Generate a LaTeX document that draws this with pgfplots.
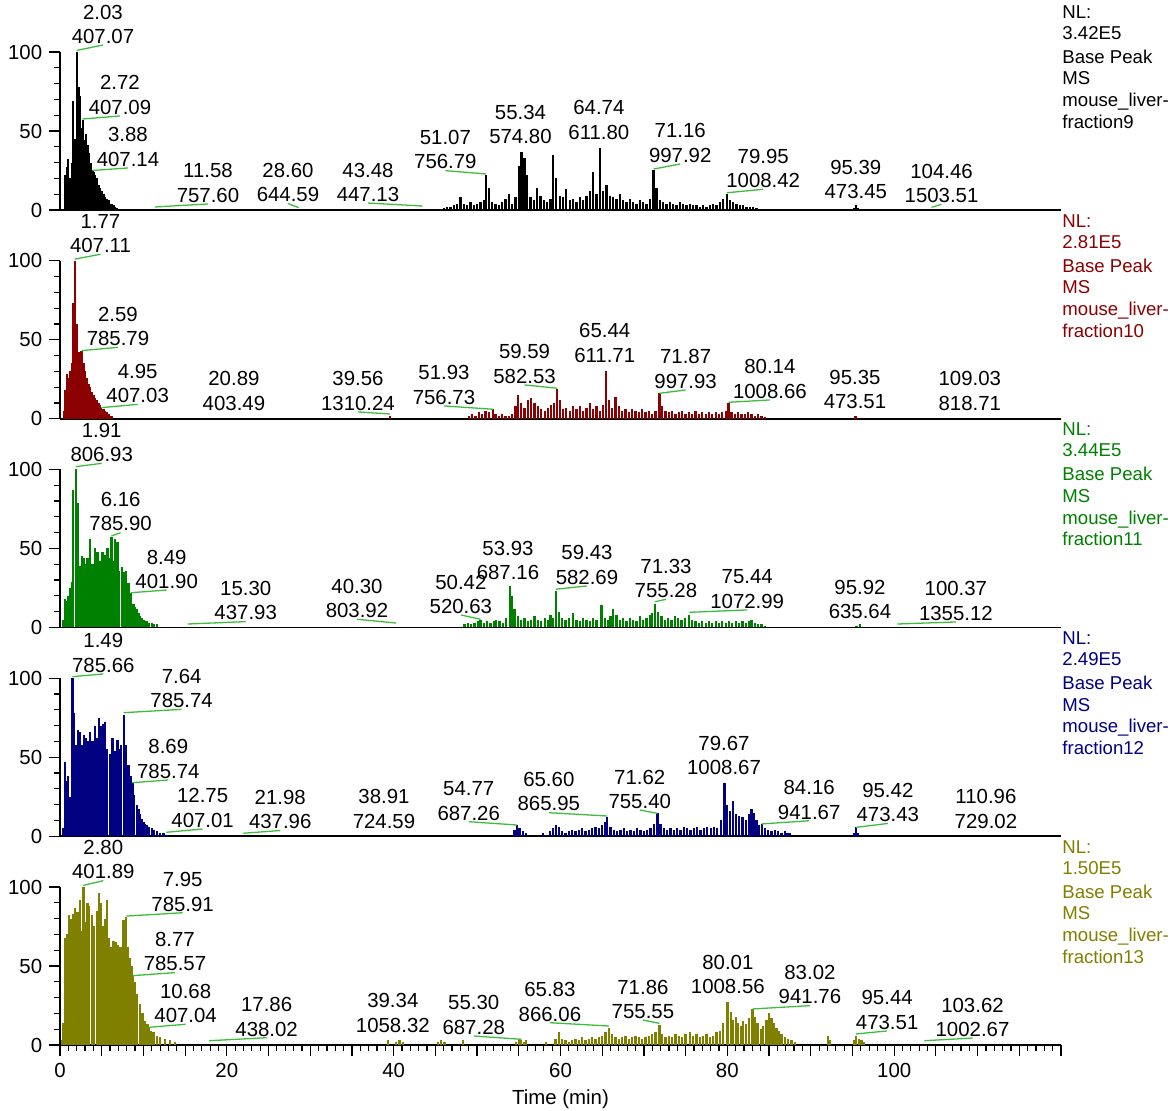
\documentclass[border=0pt]{standalone}
\usepackage{fontspec}
\setmainfont{Liberation Sans}
\usepackage{pgfplots}
\pgfplotsset{compat=1.18}
\definecolor{cA}{RGB}{0,0,0}
\definecolor{cB}{RGB}{139,0,0}
\definecolor{cC}{RGB}{0,128,0}
\definecolor{cD}{RGB}{0,0,128}
\definecolor{cE}{RGB}{128,128,0}
\definecolor{lead}{RGB}{60,190,60}
\newcommand\lfont{\fontsize{10.2}{12}\selectfont}
\newcommand\nfont{\fontsize{9.3}{10.75}\selectfont}
\newcommand\lab[6]{%
  \draw[lead,line width=0.65pt] (axis cs:#1,#2) -- (axis cs:#3,#4);
  \node[anchor=base,inner sep=0pt,yshift=0.85pt,font=\lfont] at (axis cs:#3,#4) {#6};
  \node[anchor=base,inner sep=0pt,yshift=13pt,font=\lfont] at (axis cs:#3,#4) {#5};}
\newcommand\labn[4]{%
  \node[anchor=base,inner sep=0pt,yshift=0.85pt,font=\lfont] at (axis cs:#1,#2) {#4};
  \node[anchor=base,inner sep=0pt,yshift=13pt,font=\lfont] at (axis cs:#1,#2) {#3};}
\newcommand\nl[4]{%
  \node[anchor=base west,inner sep=0pt,font=\nfont,text=#1] at (531pt,{(1092.7-#2)*0.5pt}) {NL:};
  \node[anchor=base west,inner sep=0pt,font=\nfont,text=#1] at (531pt,{(1071.7-#2)*0.5pt}) {#3};
  \node[anchor=base west,inner sep=0pt,font=\nfont,text=#1] at (531pt,{(1047.7-#2)*0.5pt}) {Base Peak};
  \node[anchor=base west,inner sep=0pt,font=\nfont,text=#1] at (531pt,{(1026-#2)*0.5pt}) {MS};
  \node[anchor=base west,inner sep=0pt,font=\nfont,text=#1] at (531pt,{(1004.3-#2)*0.5pt}) {mouse\_liver-};
  \node[anchor=base west,inner sep=0pt,font=\nfont,text=#1] at (531pt,{(982.7-#2)*0.5pt}) {#4};}
\pgfplotsset{panel/.style={
  scale only axis, width=500.5pt, height=79pt,
  xmin=0,xmax=120,ymin=0,ymax=100,
  axis x line*=bottom, axis y line*=left,
  axis line style={line width=0.9pt,black},
  clip=false, anchor=south west,
  ytick={0,50,100}, minor ytick={10,20,30,40,60,70,80,90},
  xtick=\empty,
  tick align=outside, major tick length=5.4pt, minor tick length=3pt,
  tick style={line width=0.6pt,black},
  tick label style={font=\lfont},
  /pgf/number format/assume math mode=true,
}}
\begin{document}
\begin{tikzpicture}
\useasboundingbox (0,0) rectangle (586pt,555.5pt);
% ---------------- panel 1
\begin{axis}[panel, at={(30pt,450.5pt)}]
\addplot[ycomb,cA,line width=1.15pt,mark=none] coordinates {(0.6,22)(0.8,27)(1.0,32)(1.2,20)(1.4,30)(1.6,69)(1.8,45)(2.03,100)(2.2,78)(2.4,72)(2.6,52)(2.72,57)(2.9,44)(3.1,48)(3.3,41)(3.5,36)(3.7,30)(3.88,25)(4.05,24)(4.2,22)(4.4,20)(4.6,16)(4.8,14)(5.0,12)(5.2,10)(5.4,8)(5.6,7)(5.8,6)(6.0,4)(6.2,4)(6.4,3)(6.6,2)(6.8,1)};
\addplot[ycomb,cA,line width=1.15pt,mark=none] coordinates {(46.0,1)(46.4,2)(46.8,2)(47.2,3)(47.6,4)(48.0,8)(48.4,4)(48.8,3)(49.2,5)(49.6,3)(50.0,4)(50.4,5)(50.8,6)(51.07,22)(51.4,14)(51.8,5)(52.2,4)(52.6,3)(53.0,5)(53.4,7)(53.8,10)(54.2,4)(54.6,8)(55.0,28)(55.34,37)(55.7,33)(56.0,22)(56.4,8)(56.8,6)(57.2,14)(57.6,9)(58.0,6)(58.4,5)(58.8,7)(59.1,35)(59.5,20)(59.9,9)(60.3,8)(60.7,13)(61.1,6)(61.5,7)(61.9,5)(62.3,8)(62.7,6)(63.1,9)(63.5,12)(63.9,24)(64.3,10)(64.74,39)(65.1,12)(65.5,16)(65.9,9)(66.3,8)(66.7,7)(67.1,10)(67.5,6)(67.9,5)(68.3,7)(68.7,5)(69.1,4)(69.5,6)(69.9,5)(70.3,4)(70.7,7)(71.16,25)(71.5,14)(71.9,6)(72.3,5)(72.7,4)(73.1,5)(73.5,4)(73.9,3)(74.3,5)(74.7,4)(75.1,3)(75.5,4)(75.9,3)(76.3,3)(76.7,2)(77.1,3)(77.5,2)(77.9,3)(78.3,4)(78.7,3)(79.1,5)(79.5,7)(79.95,10)(80.3,6)(80.7,5)(81.1,4)(81.5,3)(81.9,3)(82.3,2)(82.7,2)(83.1,2)(83.5,1)(95.2,1)(95.39,3)(95.6,1)};
\lab{2.03}{101}{5.15}{104.4}{2.03}{407.07}
\lab{2.72}{57.6}{7.19}{59.5}{2.72}{407.09}
\lab{3.88}{25}{8.15}{26.6}{3.88}{407.14}
\lab{11.4}{1.9}{17.74}{3.8}{11.58}{757.60}
\lab{28.6}{1.5}{27.33}{4.1}{28.60}{644.59}
\lab{43.48}{2.5}{36.92}{4.4}{43.48}{447.13}
\lab{51.07}{22.8}{46.2}{24.9}{51.07}{756.79}
\labn{55.2}{41.1}{55.34}{574.80}
\labn{64.6}{43.7}{64.74}{611.80}
\lab{71.16}{25.9}{74.35}{29.1}{71.16}{997.92}
\lab{79.95}{10.9}{84.3}{13.1}{79.95}{1008.42}
\labn{95.4}{6.3}{95.39}{473.45}
\lab{104.48}{1.7}{105.68}{3.6}{104.46}{1503.51}
\end{axis}
% ---------------- panel 2
\begin{axis}[panel, at={(30pt,346.125pt)}]
\addplot[ycomb,cB,line width=1.15pt,mark=none] coordinates {(0.5,5)(0.6,18)(0.8,28)(1.0,26)(1.2,30)(1.4,35)(1.6,73)(1.77,100)(2.0,60)(2.2,42)(2.4,38)(2.59,43)(2.8,35)(3.0,30)(3.2,26)(3.4,22)(3.6,20)(3.8,17)(4.0,15)(4.2,13)(4.4,12)(4.6,10)(4.8,9)(4.95,7)(5.2,6)(5.4,5)(5.6,4)(5.8,3)(6.0,2)(6.2,2)(39.56,1.5)};
\addplot[ycomb,cB,line width=1.15pt,mark=none] coordinates {(49.0,2)(49.4,3)(49.8,2)(50.2,4)(50.6,3)(51.0,5)(51.4,4)(51.93,6)(52.2,3)(52.6,2)(53.0,3)(53.4,2)(53.8,2)(54.2,3)(54.6,8)(54.9,15)(55.3,10)(55.7,7)(56.1,12)(56.5,13)(56.9,10)(57.3,8)(57.7,6)(58.1,5)(58.5,7)(58.9,9)(59.25,10)(59.59,19)(59.9,12)(60.3,6)(60.7,7)(61.1,5)(61.5,8)(61.9,6)(62.3,8)(62.7,5)(63.1,7)(63.5,10)(63.9,6)(64.3,8)(64.7,5)(65.1,9)(65.44,30)(65.8,12)(66.2,7)(66.6,14)(67.0,8)(67.4,5)(67.8,6)(68.2,4)(68.6,6)(69.0,5)(69.4,4)(69.8,6)(70.2,4)(70.6,5)(71.0,3)(71.4,5)(71.87,16)(72.2,8)(72.6,5)(73.0,4)(73.4,5)(73.8,3)(74.2,4)(74.6,5)(75.0,3)(75.4,4)(75.8,3)(76.2,5)(76.6,3)(77.0,4)(77.4,3)(77.8,4)(78.2,3)(78.6,4)(79.0,3)(79.4,4)(79.8,5)(80.14,10)(80.5,4)(80.9,3)(81.3,4)(81.7,3)(82.1,3)(82.5,4)(82.9,3)(83.3,2)(83.7,3)(84.1,2)(84.5,1)(95.35,2)};
\lab{1.77}{101}{4.85}{104.1}{1.77}{407.11}
\lab{2.59}{43.1}{6.95}{45.2}{2.59}{785.79}
\lab{4.95}{7.0}{9.31}{9.1}{4.95}{407.03}
\labn{20.85}{4.3}{20.89}{403.49}
\lab{39.56}{3.0}{35.72}{4.3}{39.56}{1310.24}
\lab{51.93}{6}{46.03}{8.1}{51.93}{756.73}
\lab{59.59}{19.3}{55.69}{21.4}{59.59}{582.53}
\labn{65.3}{34.7}{65.44}{611.71}
\lab{71.87}{16.1}{75.0}{18.2}{71.87}{997.93}
\lab{80.14}{10.4}{85.1}{11.9}{80.14}{1008.66}
\labn{95.3}{5.5}{95.35}{473.51}
\labn{109.07}{4.3}{109.03}{818.71}
\end{axis}
% ---------------- panel 3
\begin{axis}[panel, at={(30pt,241.75pt)}]
\addplot[ycomb,cC,line width=1.15pt,mark=none] coordinates {(0.4,5)(0.6,18)(0.8,17)(1.0,20)(1.2,25)(1.4,29)(1.6,87)(1.91,100)(2.16,79)(2.4,39)(2.6,45)(2.8,44)(3.0,40)(3.3,44)(3.6,56)(3.9,40)(4.2,50)(4.5,48)(4.8,42)(5.1,48)(5.4,46)(5.7,50)(5.9,44)(6.16,57)(6.4,42)(6.6,56)(6.9,54)(7.1,36)(7.4,38)(7.7,35)(7.9,36)(8.2,28)(8.49,22)(8.8,15)(9.0,13)(9.2,12)(9.4,9)(9.6,7)(9.8,6)(10.0,5)(10.2,4)(10.4,4)(10.7,3)(11.0,3)(11.3,2)(11.6,2)};
\addplot[ycomb,cC,line width=1.15pt,mark=none] coordinates {(48.5,2)(48.9,3)(49.3,2)(49.7,3)(50.1,4)(50.42,5)(50.8,3)(51.2,4)(51.6,3)(52.0,4)(52.3,5)(52.7,4)(53.1,3)(53.5,6)(53.93,26)(54.2,20)(54.5,12)(54.9,7)(55.3,5)(55.7,6)(56.1,4)(56.5,5)(56.9,7)(57.3,5)(57.7,4)(58.1,6)(58.5,5)(58.8,8)(59.1,6)(59.43,23)(59.8,10)(60.2,6)(60.6,5)(61.0,6)(61.5,9)(61.9,5)(62.3,4)(62.7,6)(63.1,5)(63.5,4)(63.9,6)(64.3,5)(64.9,14)(65.3,6)(65.7,5)(66.0,7)(66.3,12)(66.7,8)(67.1,5)(67.5,6)(67.9,4)(68.3,6)(68.7,5)(69.1,4)(69.5,7)(69.9,5)(70.3,6)(70.7,8)(71.0,9)(71.33,15)(71.7,10)(72.1,7)(72.5,5)(72.9,6)(73.3,5)(73.7,7)(74.1,6)(74.5,5)(74.9,6)(75.44,8)(75.8,5)(76.2,4)(76.6,3)(77.0,4)(77.4,3)(77.8,4)(78.2,3)(78.6,4)(79.0,3)(79.4,4)(79.8,3)(80.2,4)(80.6,3)(81.0,4)(81.4,3)(81.8,4)(82.2,3)(82.6,4)(82.9,5)(83.3,3)(83.7,2)(84.1,2)(84.5,1)(95.5,1)(95.92,2)};
\lab{1.91}{101.8}{5.0}{103.9}{1.91}{806.93}
\lab{6.16}{57.9}{7.27}{60}{6.16}{785.90}
\lab{8.49}{22}{12.79}{23.7}{8.49}{401.90}
\lab{15.30}{2.2}{22.26}{3.7}{15.30}{437.93}
\lab{40.30}{2.8}{35.6}{5.2}{40.30}{803.92}
\lab{50.42}{5.2}{48.06}{7.9}{50.42}{520.63}
\labn{53.7}{29.4}{53.93}{687.16}
\lab{59.43}{24.2}{63.17}{26.3}{59.43}{582.69}
\lab{71.33}{16.3}{72.64}{17.8}{71.33}{755.28}
\lab{75.44}{9.6}{82.38}{11.1}{75.44}{1072.99}
\labn{95.9}{4.7}{95.92}{635.64}
\lab{100.37}{2.2}{107.4}{3.5}{100.37}{1355.12}
\end{axis}
% ---------------- panel 4
\begin{axis}[panel, at={(30pt,137.375pt)}]
\addplot[ycomb,cD,line width=1.15pt,mark=none] coordinates {(0.4,5)(0.6,47)(0.8,35)(1.0,38)(1.2,25)(1.49,100)(1.68,78)(1.9,58)(2.16,67)(2.4,66)(2.64,58)(2.9,64)(3.1,62)(3.36,60)(3.6,66)(3.9,60)(4.16,70)(4.4,62)(4.67,75)(4.95,70)(5.2,71)(5.4,72)(5.67,55)(6.0,52)(6.3,62)(6.6,54)(6.9,61)(7.1,55)(7.35,58)(7.64,77)(7.9,58)(8.2,45)(8.47,38)(8.69,34)(8.9,26)(9.2,20)(9.4,17)(9.6,14)(9.8,11)(10.0,9)(10.2,8)(10.4,7)(10.7,6)(11.0,5)(11.3,4)(11.6,3)(12.0,2)(12.4,2)(12.75,1)};
\addplot[ycomb,cD,line width=1.15pt,mark=none] coordinates {(54.5,4)(54.77,7)(55.1,5)(55.5,3)(55.9,2)(57.9,2)(58.3,1)(58.7,3)(59.1,5)(59.5,7)(59.8,6)(60.2,3)(60.6,2)(61.0,3)(61.4,4)(61.8,3)(62.2,4)(62.6,5)(63.0,3)(63.4,4)(63.8,5)(64.2,6)(64.6,5)(65.0,7)(65.3,9)(65.6,12)(66.0,6)(66.4,4)(66.8,3)(67.2,4)(67.6,5)(68.0,3)(68.4,4)(68.8,3)(69.2,5)(69.6,4)(70.0,3)(70.4,4)(70.8,5)(71.2,8)(71.62,14.5)(72.0,8)(72.4,5)(72.8,4)(73.2,5)(73.6,4)(74.0,5)(74.4,4)(74.8,6)(75.2,5)(75.6,4)(76.0,5)(76.4,6)(76.8,4)(77.2,5)(77.6,6)(78.0,5)(78.4,6)(78.8,5)(79.2,10)(79.67,34)(80.0,20)(80.3,16)(80.7,22)(81.0,14)(81.4,13)(81.8,12)(82.2,10)(82.6,14)(82.9,17)(83.2,15)(83.5,10)(83.8,7)(84.16,8)(84.5,5)(84.9,4)(85.3,3)(85.7,4)(86.1,3)(86.5,2)(86.9,3)(87.2,2)(87.5,2)(95.2,2)(95.42,6)(95.7,2)};
\lab{1.49}{101}{5.19}{102.7}{1.49}{785.66}
\lab{7.64}{78.2}{14.58}{80.3}{7.64}{785.74}
\lab{8.69}{33.9}{12.98}{35.6}{8.69}{785.74}
\lab{12.75}{2.5}{17.1}{4.6}{12.75}{407.01}
\lab{21.98}{1.9}{26.4}{3.6}{21.98}{437.96}
\labn{38.84}{4.0}{38.91}{724.59}
\lab{54.77}{7.1}{49.0}{9.2}{54.77}{687.26}
\lab{65.60}{12.8}{58.6}{14.9}{65.60}{865.95}
\lab{71.62}{14.5}{69.5}{16.6}{71.62}{755.40}
\labn{79.6}{38.1}{79.67}{1008.67}
\lab{84.16}{7.8}{89.81}{9.8}{84.16}{941.67}
\lab{95.42}{5.6}{99.24}{8.1}{95.42}{473.43}
\labn{111.0}{4.0}{110.96}{729.02}
\end{axis}
% ---------------- panel 5
\begin{axis}[panel, at={(30pt,33pt)},
  xtick={0,5,...,120},
  xticklabels={0,,,,20,,,,40,,,,60,,,,80,,,,100,,,,},
  minor x tick num=4]
\addplot[ycomb,cE,line width=1.15pt,mark=none] coordinates {(0.2,3)(0.4,14)(0.6,68)(0.8,70)(1.08,82)(1.36,80)(1.6,83)(1.84,87)(2.1,84)(2.4,92)(2.6,72)(2.8,100)(3.0,78)(3.3,90)(3.5,88)(3.8,82)(4.1,75)(4.4,85)(4.67,96)(4.95,90)(5.2,75)(5.4,80)(5.6,92)(5.84,68)(6.1,62)(6.4,66)(6.67,65)(6.95,63)(7.27,62)(7.6,79)(7.95,81)(8.15,62)(8.4,55)(8.6,50)(8.77,44)(9.0,40)(9.27,32)(9.6,26)(9.9,20)(10.2,15)(10.5,13)(10.68,11)(10.9,9)(11.2,8)(11.6,6)(12.0,5)(12.6,4)(13.2,3)(13.8,2)};
\addplot[ycomb,cE,line width=1.15pt,mark=none] coordinates {(39.34,3)(40.3,2)(40.7,3)(41.1,2)(45.3,2)(45.7,3)(46.1,2)(48.3,3)(54.7,2)(55.0,4)(55.3,3)(55.6,2)(55.9,3)(58.3,2)(59.4,4)(59.85,8)(60.2,4)(60.6,3)(61.0,2)(61.4,3)(61.8,4)(62.2,3)(62.6,5)(63.0,3)(63.4,4)(63.8,5)(64.2,4)(64.6,5)(65.0,6)(65.4,8)(65.83,10.5)(66.2,7)(66.6,5)(67.0,4)(67.4,5)(67.8,6)(68.2,4)(68.6,5)(69.0,6)(69.4,5)(69.8,4)(70.2,5)(70.6,6)(71.0,7)(71.4,8)(71.86,12.7)(72.2,7)(72.6,5)(73.0,6)(73.4,5)(73.8,7)(74.2,6)(74.6,5)(75.0,7)(75.5,8)(75.9,6)(76.3,7)(76.7,5)(77.1,6)(77.5,7)(77.9,5)(78.3,6)(78.7,8)(79.1,9)(79.5,14)(80.01,27)(80.4,21)(80.7,16)(81.0,18)(81.3,14)(81.6,12)(81.9,15)(82.2,13)(82.6,17)(83.02,23)(83.3,18)(83.6,14)(84.0,10)(84.3,12)(84.7,16)(85.0,20)(85.3,17)(85.6,14)(85.9,11)(86.2,9)(86.5,7)(86.9,5)(87.3,4)(87.7,3)(88.1,2)(92.1,6)(92.3,3)(95.2,3)(95.44,6)(95.8,4)(96.1,3)(96.4,2)};
\lab{2.80}{101}{5.19}{104}{2.80}{401.89}
\lab{7.95}{81.6}{14.7}{83.7}{7.95}{785.91}
\lab{8.77}{43.9}{13.78}{45.8}{8.77}{785.57}
\lab{10.68}{11.2}{15.06}{13.1}{10.68}{407.04}
\lab{17.86}{2.7}{24.77}{4.6}{17.86}{438.02}
\labn{39.9}{7.0}{39.34}{1058.32}
\lab{55.30}{3.6}{49.6}{5.7}{55.30}{687.28}
\lab{65.83}{12}{58.73}{14.1}{65.83}{866.06}
\lab{71.86}{13.7}{69.88}{15.8}{71.86}{755.55}
\labn{80.06}{31.6}{80.01}{1008.56}
\lab{83.02}{22.8}{89.9}{24.9}{83.02}{941.76}
\lab{95.44}{7}{99.16}{8.9}{95.44}{473.51}
\lab{103.62}{2.7}{109.39}{4.4}{103.62}{1002.67}
\node[font=\lfont] at (axis cs:60,-34.2) {Time (min)};
\end{axis}
% ---------------- NL blocks
\nl{cA}{0}{3.42E5}{fraction9}
\nl{cB}{208.75}{2.81E5}{fraction10}
\nl{cC}{417.5}{3.44E5}{fraction11}
\nl{cD}{626.25}{2.49E5}{fraction12}
\nl{cE}{835}{1.50E5}{fraction13}
\end{tikzpicture}
\end{document}
